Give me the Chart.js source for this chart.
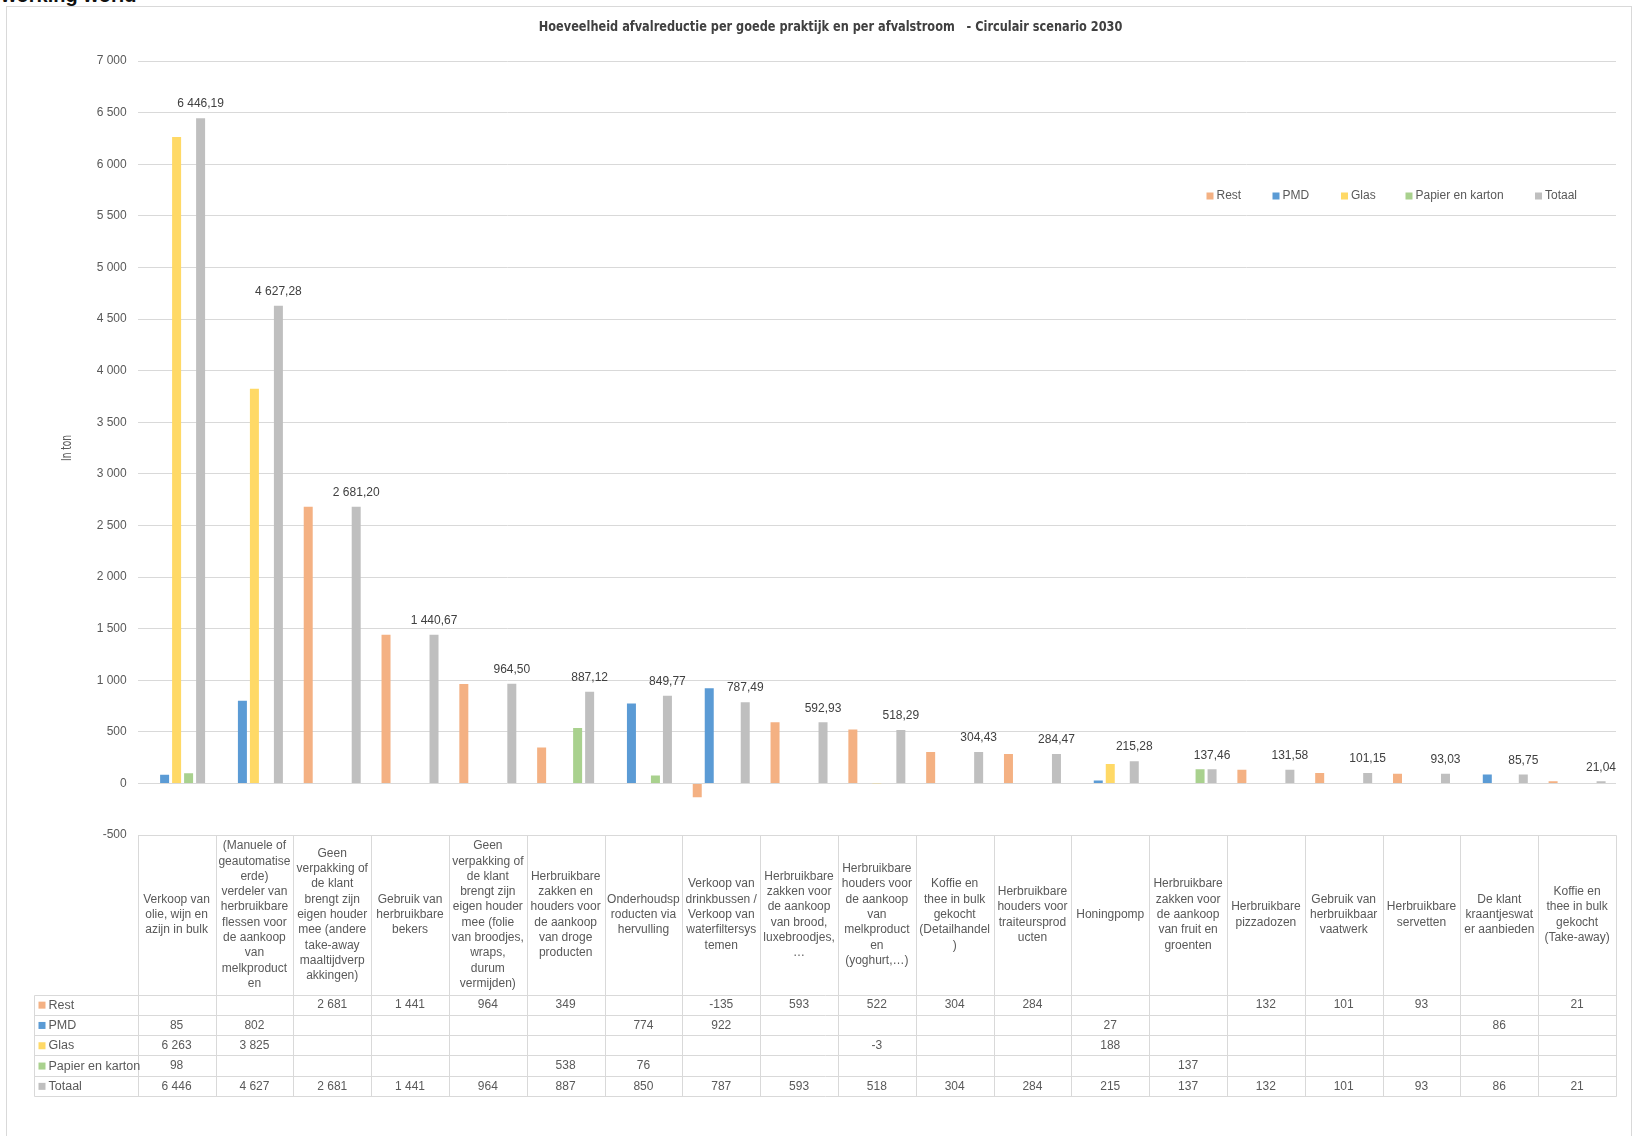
<!DOCTYPE html>
<html><head><meta charset="utf-8">
<script src="https://cdn.jsdelivr.net/npm/chart.js@4.4.1/dist/chart.umd.min.js"></script>
<style>
html,body{margin:0;padding:0;background:#fff;overflow:hidden;width:1634px;height:1136px}
#hdr{position:absolute;left:1px;top:-16px;font:bold 20px 'Liberation Sans',Arial,sans-serif;color:#111;white-space:nowrap}
#wrap{position:absolute;left:0;top:0;width:1634px;height:1136px}
</style></head><body>
<div id="hdr">working world</div>
<div id="wrap"><canvas id="c" width="1634" height="1136"></canvas></div>
<script>
// ---------- DATA ----------
const categories = [
  ["Verkoop van","olie, wijn en","azijn in bulk"],
  ["(Manuele of","geautomatise","erde)","verdeler van","herbruikbare","flessen voor","de aankoop","van","melkproduct","en"],
  ["Geen","verpakking of","de klant","brengt zijn","eigen houder","mee (andere","take-away","maaltijdverp","akkingen)"],
  ["Gebruik van","herbruikbare","bekers"],
  ["Geen","verpakking of","de klant","brengt zijn","eigen houder","mee (folie","van broodjes,","wraps,","durum","vermijden)"],
  ["Herbruikbare","zakken en","houders voor","de aankoop","van droge","producten"],
  ["Onderhoudsp","roducten via","hervulling"],
  ["Verkoop van","drinkbussen /","Verkoop van","waterfiltersys","temen"],
  ["Herbruikbare","zakken voor","de aankoop","van brood,","luxebroodjes,","…"],
  ["Herbruikbare","houders voor","de aankoop","van","melkproduct","en","(yoghurt,…)"],
  ["Koffie en","thee in bulk","gekocht","(Detailhandel",")"],
  ["Herbruikbare","houders voor","traiteursprod","ucten"],
  ["Honingpomp"],
  ["Herbruikbare","zakken voor","de aankoop","van fruit en","groenten"],
  ["Herbruikbare","pizzadozen"],
  ["Gebruik van","herbruikbaar","vaatwerk"],
  ["Herbruikbare","servetten"],
  ["De klant","kraantjeswat","er aanbieden"],
  ["Koffie en","thee in bulk","gekocht","(Take-away)"]
];
const seriesNames = ["Rest","PMD","Glas","Papier en karton","Totaal"];
const rest   = [null,null,2681,1441,964,349,null,-135,593,522,304,284,null,null,132,101,93,null,21];
const pmd    = [85,802,null,null,null,null,774,922,null,null,null,null,27,null,null,null,null,86,null];
const glas   = [6263,3825,null,null,null,null,null,null,null,-3,null,null,188,null,null,null,null,null,null];
const papier = [98,null,null,null,null,538,76,null,null,null,null,null,null,137,null,null,null,null,null];
const totaal = [6446.19,4627.28,2681.20,1440.67,964.499,887.12,849.77,787.49,592.93,518.29,304.43,284.47,215.28,137.46,131.58,101.15,93.03,85.75,21.04];
const yMin = -500, yMax = 7000, yStep = 500;
const chartTitle = "Hoeveelheid afvalreductie per goede praktijk en per afvalstroom   - Circulair scenario 2030";
const yTitle = "In ton";

// ---------- STYLE ----------
const colors = ["#F4B183","#5B9BD5","#FFD966","#A9D18E","#BFBFBF"];
const FONT = "'Liberation Sans', Arial, sans-serif";
const NARROW = "'Liberation Sans Narrow', 'DejaVu Sans Condensed', 'Liberation Sans', sans-serif";
const gridColor = "#D9D9D9";
const textColor = "#595959";

function fmt(v, dec){
  const s = Math.abs(v).toFixed(dec);
  let parts = s.split('.');
  let i = parts[0].replace(/\B(?=(\d{3})+(?!\d))/g, ' ');
  return (v < 0 ? '-' : '') + i + (parts[1] ? ',' + parts[1] : '');
}

function fitText(ctx, text, x, y, targetW){
  const w = ctx.measureText(text).width;
  const s = targetW / w;
  ctx.save();
  ctx.translate(x, y);
  ctx.scale(s, 1);
  ctx.fillText(text, 0, 0);
  ctx.restore();
}

const series = [rest, pmd, glas, papier, totaal];

const decor = {
  id: 'decor',
  beforeDraw(chart){
    const ctx = chart.ctx;
    ctx.save();
    ctx.fillStyle = '#fff';
    ctx.fillRect(0, 7, chart.width, chart.height);
    ctx.strokeStyle = '#D9D9D9';
    ctx.lineWidth = 1;
    ctx.strokeRect(6.5, 6.5, 1625, 1200);
    ctx.restore();
  },
  afterDatasetsDraw(chart){
    const ctx = chart.ctx, ca = chart.chartArea;
    const meta = chart.getDatasetMeta(4);
    ctx.save();
    ctx.font = "12px " + FONT;
    ctx.fillStyle = "#404040";
    ctx.textAlign = 'center';
    ctx.textBaseline = 'middle';
    meta.data.forEach((el, i) => {
      const v = totaal[i];
      if (v == null) return;
      const label = fmt(v, 2);
      const w = ctx.measureText(label).width;
      let x = el.x;
      if (x + w/2 > ca.right) x = ca.right - w/2;
      ctx.fillText(label, x, Math.min(el.y, el.base) - 14);
    });
    ctx.restore();
  },
  afterDraw(chart){
    const ctx = chart.ctx, ca = chart.chartArea;
    ctx.save();
    // title
    ctx.font = "bold 14px " + NARROW;
    ctx.fillStyle = "#404040";
    ctx.textAlign = 'left';
    ctx.textBaseline = 'middle';
    fitText(ctx, chartTitle, 830.6 - 583.6/2, 27, 583.6);
    // y title
    ctx.save();
    ctx.translate(67, (ca.top + ca.bottom) / 2);
    ctx.rotate(-Math.PI / 2);
    ctx.font = "14px " + NARROW;
    ctx.fillStyle = textColor;
    ctx.textAlign = 'left';
    fitText(ctx, yTitle, -13, 0, 26);
    ctx.restore();

    // legend
    const legX = [1206.5, 1272.5, 1341, 1405.5, 1535];
    const legY = 196;
    ctx.font = "12px " + FONT;
    ctx.textBaseline = 'middle';
    ctx.textAlign = 'left';
    seriesNames.forEach((nm, i) => {
      ctx.fillStyle = colors[i];
      ctx.fillRect(legX[i], legY - 3.5, 7, 7);
      ctx.fillStyle = textColor;
      ctx.fillText(nm, legX[i] + 10, legY);
    });

    // data table
    const n = categories.length;
    const colW = (ca.right - ca.left) / n;
    const top = ca.bottom;
    const headH = 159.5;
    const rowH = 20.3;
    const bottom = top + headH + 5 * rowH;
    const labelLeft = 33.7;
    const px = v => Math.round(v) + 0.5;
    ctx.strokeStyle = gridColor;
    ctx.lineWidth = 1;
    ctx.beginPath();
    ctx.moveTo(px(ca.left), px(top)); ctx.lineTo(px(ca.right), px(top));
    for (let k = 0; k <= 5; k++){
      const y = px(top + headH + k * rowH);
      ctx.moveTo(px(labelLeft), y); ctx.lineTo(px(ca.right), y);
    }
    for (let i = 0; i <= n; i++){
      const x = px(ca.left + i * colW);
      ctx.moveTo(x, px(top)); ctx.lineTo(x, px(bottom));
    }
    ctx.moveTo(px(labelLeft), px(top + headH)); ctx.lineTo(px(labelLeft), px(bottom));
    ctx.stroke();

    // header text
    ctx.font = "12px " + FONT;
    ctx.fillStyle = textColor;
    ctx.textAlign = 'center';
    ctx.textBaseline = 'middle';
    const lh = 15.3;
    categories.forEach((lines, i) => {
      const cx = chart.scales.x.getPixelForValue(i);
      const y0 = top + headH / 2 - (lines.length * lh) / 2 + lh / 2;
      lines.forEach((ln, j) => ctx.fillText(ln, cx, y0 + j * lh));
    });
    // rows
    series.forEach((arr, r) => {
      const cy = top + headH + r * rowH + rowH / 2 + 0.5;
      ctx.fillStyle = colors[r];
      ctx.fillRect(38.5, cy - 3.5, 7, 7);
      ctx.fillStyle = textColor;
      ctx.textAlign = 'left';
      ctx.font = "12.5px " + FONT;
      ctx.fillText(seriesNames[r], 48.5, cy);
      ctx.font = "12px " + FONT;
      ctx.textAlign = 'center';
      arr.forEach((v, i) => {
        if (v == null) return;
        ctx.fillText(fmt(Math.round(v), 0), chart.scales.x.getPixelForValue(i), cy);
      });
    });
    ctx.restore();
  }
};

new Chart(document.getElementById('c'), {
  type: 'bar',
  data: {
    labels: categories.map(c => c.join(' ')),
    datasets: seriesNames.map((nm, i) => ({
      label: nm,
      data: series[i],
      backgroundColor: colors[i],
      borderWidth: 0,
      barPercentage: 0.75,
      categoryPercentage: 0.771
    }))
  },
  options: {
    responsive: false,
    animation: false,
    devicePixelRatio: 1,
    layout: { padding: { left: 0, right: 18, top: 61, bottom: 301 } },
    plugins: { legend: { display: false }, title: { display: false }, tooltip: { enabled: false } },
    scales: {
      x: { display: false, grid: { display: false } },
      y: {
        min: yMin, max: yMax,
        ticks: { stepSize: yStep, callback: v => fmt(v, 0), color: textColor, font: { family: FONT, size: 12 }, padding: 11 },
        grid: { color: gridColor, drawTicks: false, lineWidth: 1 },
        border: { display: false },
        afterFit(s){ s.width = 137.7; }
      }
    }
  },
  plugins: [decor]
});
</script>
</body></html>
